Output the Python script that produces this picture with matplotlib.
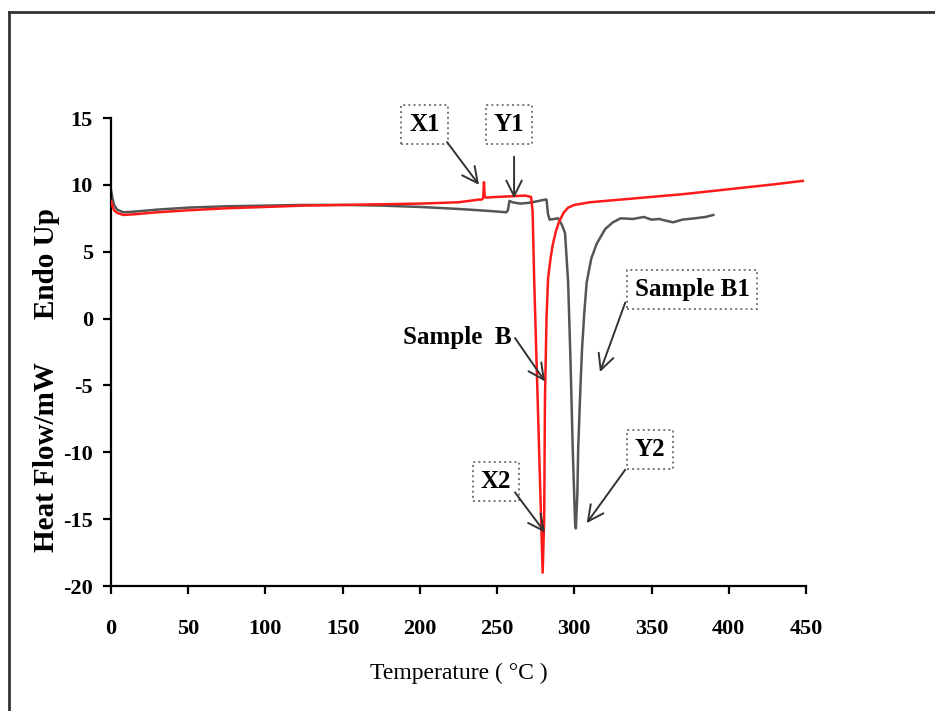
import matplotlib
matplotlib.use('Agg')
import matplotlib.pyplot as plt
from matplotlib.lines import Line2D

plt.rcParams['axes.unicode_minus'] = False

# DSC traces (temperature in C, heat flow in mW)
temp_b = [0, 1, 2, 4, 8, 15, 30, 50, 75, 100, 125, 150, 175, 200, 225, 235,
          238, 240, 241, 241.5, 242, 243, 250, 260, 268, 272, 273, 274, 276,
          278, 279.5, 280.5, 281, 282, 283, 284.5, 286, 288, 290, 293, 296,
          300, 310, 330, 350, 370, 390, 410, 430, 448]
heat_b = [8.8, 8.4, 8.1, 7.9, 7.75, 7.8, 7.95, 8.1, 8.25, 8.35, 8.45, 8.5,
          8.55, 8.6, 8.7, 8.85, 8.9, 8.9, 9.0, 10.2, 9.1, 9.05, 9.1, 9.15,
          9.2, 9.1, 8.0, 3.0, -5.0, -13.0, -19.0, -15.0, -6.0, 0.0, 3.0, 4.4,
          5.5, 6.5, 7.2, 7.9, 8.3, 8.5, 8.7, 8.9, 9.1, 9.3, 9.55, 9.8, 10.05,
          10.3]

temp_b1 = [0, 1, 2, 4, 8, 15, 30, 50, 75, 100, 125, 150, 175, 200, 225, 245,
           256, 257, 258, 260, 265, 270, 275, 281, 282, 283, 284, 287, 289.5,
           292, 294, 296, 297.5, 299, 300.5, 301, 302, 302.5, 304, 305, 306.5,
           308, 311, 314.5, 320, 325, 330, 338, 345, 350, 355, 360, 364, 370,
           378, 385, 390]
heat_b1 = [9.6, 9.0, 8.5, 8.15, 7.95, 8.0, 8.15, 8.3, 8.4, 8.45, 8.5, 8.5,
           8.45, 8.35, 8.2, 8.05, 7.95, 8.1, 8.8, 8.7, 8.6, 8.65, 8.75, 8.9,
           8.9, 7.8, 7.4, 7.45, 7.5, 7.0, 6.4, 2.7, -3.0, -9.8, -15.3, -15.7,
           -13.0, -9.8, -5.0, -2.3, 0.5, 2.7, 4.5, 5.6, 6.7, 7.2, 7.5, 7.45,
           7.6, 7.4, 7.45, 7.3, 7.2, 7.4, 7.5, 7.6, 7.75]

x_ticks = [0, 50, 100, 150, 200, 250, 300, 350, 400, 450]
y_ticks = [-20, -15, -10, -5, 0, 5, 10, 15]

# label text, box centre, arrow tail, arrow head, boxed?
notes = [
    ('X1', (203, 14.55), (217.6, 13.2), (238.3, 10.0), True),
    ('Y1', (257.7, 14.5), (261, 12.1), (261, 9.0), True),
    ('Sample  B', (224, -1.45), (261.6, -1.45), (281, -4.7), False),
    ('X2', (249.3, -12.2), (261.6, -13.0), (281, -16.0), True),
    ('Sample B1', (376.2, 2.18), (333, 1.2), (316.6, -4.0), True),
    ('Y2', (349, -9.8), (333, -11.3), (308, -15.3), True),
]

serif = 'Liberation Serif'

fig = plt.figure(figsize=(9.35, 7.11), dpi=100)
ax = fig.add_axes([0.1187, 0.1758, 0.7433, 0.6582])

ax.plot(temp_b1, heat_b1, color='#555555', lw=1.8, zorder=2)
ax.plot(temp_b, heat_b, color='#ff1a1a', lw=1.8, zorder=3)

ax.set_xlim(0, 450)
ax.set_ylim(-20, 15)
ax.set_xticks(x_ticks)
ax.set_yticks(y_ticks)
ax.spines['top'].set_visible(False)
ax.spines['right'].set_visible(False)
for s in ('left', 'bottom'):
    ax.spines[s].set_linewidth(1.6)
ax.tick_params(direction='out', length=6, width=1.6)
ax.tick_params(axis='x', pad=18)
ax.tick_params(axis='y', pad=7)
for lab in ax.get_xticklabels() + ax.get_yticklabels():
    lab.set_fontfamily(serif)
    lab.set_fontsize(16)
    lab.set_fontweight('bold')

ax.set_xlabel('Temperature ( °C )', fontfamily=serif, fontsize=17, labelpad=17)
fig.text(0.050, 0.466, 'Heat Flow/mW      Endo Up', rotation=90,
         fontfamily=serif, fontsize=21, fontweight='bold',
         ha='center', va='center')

for text, centre, tail, head, boxed in notes:
    bbox = None
    if boxed:
        bbox = dict(boxstyle='square,pad=0.32', facecolor='white',
                    edgecolor='#777777', linestyle=':', lw=1.4)
    ax.text(centre[0], centre[1], text, fontfamily=serif, fontsize=18,
            fontweight='bold', ha='center', va='center', bbox=bbox, zorder=5)
    ax.annotate('', xy=head, xytext=tail,
                arrowprops=dict(arrowstyle='->,head_length=0.8,head_width=0.4',
                                color='#333333', lw=1.4, mutation_scale=14,
                                shrinkA=0, shrinkB=0), zorder=6)

# outer frame of the figure (top and left edges only)
fig.add_artist(Line2D([9 / 935, 9 / 935], [0, 1 - 12 / 711], color='#333333', lw=2))
fig.add_artist(Line2D([9 / 935, 1], [1 - 12 / 711, 1 - 12 / 711], color='#333333', lw=2))

fig.savefig('out.png', dpi=100)
